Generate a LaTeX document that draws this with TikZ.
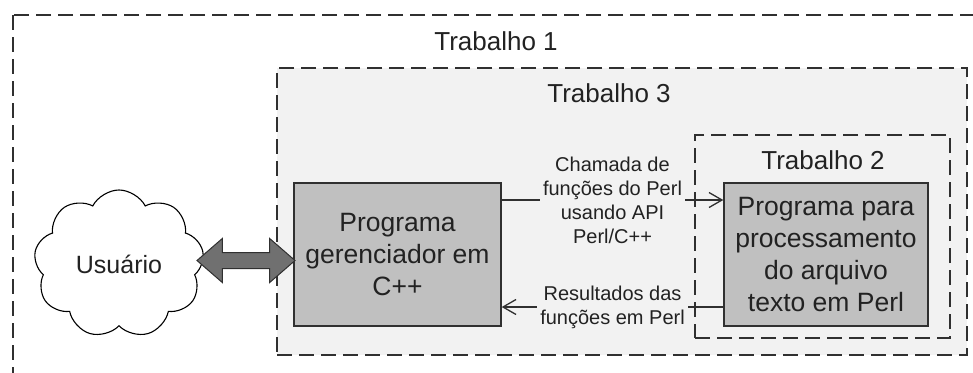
\documentclass[tikz,border=0pt]{standalone}
\usepackage{fontspec}
\setmainfont{Liberation Sans}
\usetikzlibrary{shapes.symbols,shapes.arrows,arrows.meta}
\definecolor{bgthree}{HTML}{F2F2F2}
\definecolor{boxgray}{HTML}{C0C0C0}
\definecolor{edge}{HTML}{303030}
\definecolor{txt}{HTML}{222222}
\definecolor{fatgray}{HTML}{707070}
\tikzset{
  dashbox/.style={draw=edge,line width=1.6pt,dash pattern=on 15pt off 7pt},
  title/.style={text=txt,font=\fontsize{26}{31}\selectfont,inner sep=0pt},
  progbox/.style={draw=edge,line width=1.4pt,fill=boxgray,text=txt,align=center,
     font=\fontsize{26.5}{32}\selectfont,inner sep=0pt},
  lbl/.style={fill=bgthree,text=txt,align=center,font=\fontsize{20}{24}\selectfont,
     inner xsep=3pt,inner ysep=0pt},
  conn/.style={draw=edge,line width=1.3pt,-{Straight Barb[length=13pt,width=15pt,line width=1.3pt]}},
}
\begin{document}
\begin{tikzpicture}[x=1pt,y=-1pt]
\useasboundingbox (0,0) rectangle (973,372);
\clip (0,0) rectangle (973,372);
% outer box Trabalho 1
\draw[dashbox] (13,15) rectangle (1000,400);
\node[title] (t1) at (496,41) {Trabalho 1};
% Trabalho 3
\node[dashbox,fill=bgthree,minimum width=690pt,minimum height=287pt,inner sep=0pt] (b3) at (622,211.5) {};
\node[title] (t3) at (609,93) {Trabalho 3};
% Trabalho 2
\node[dashbox,minimum width=255pt,minimum height=203pt,inner sep=0pt] (b2) at (822.5,236.5) {};
\node[title] (t2) at (823,160) {Trabalho 2};
% program boxes
\node[progbox,minimum width=207pt,minimum height=143pt] (cpp) at (397.5,254.5) {Programa\\gerenciador em\\C++};
\node[progbox,minimum width=204pt,minimum height=143pt] (perl) at (826,254.5) {Programa para\\processamento\\do arquivo\\texto em Perl};
% cloud
\node[cloud,cloud puffs=9,cloud puff arc=125,aspect=1.15,draw=black,line width=1.1pt,fill=white,
  minimum width=170pt,minimum height=148pt,inner sep=0pt,text=txt,font=\fontsize{25}{30}\selectfont] (user) at (119,264) {Usuário};
% fat double arrow
\node[double arrow,draw=edge,line width=1pt,fill=fatgray,inner xsep=0pt,inner ysep=7.5pt,
  double arrow head extend=14pt,minimum height=98pt,double arrow tip angle=82] (io) at (246,260.5) {};
% connectors
\draw[conn] ([yshift=54.5pt]cpp.east) -- node[lbl]{Chamada de\\funções do Perl\\usando API\\Perl/C++} ([yshift=54.5pt]perl.west);
\draw[conn] ([yshift=-52.5pt]perl.west) -- node[lbl]{Resultados das\\funções em Perl} ([yshift=-52.5pt]cpp.east);
\end{tikzpicture}
\end{document}
